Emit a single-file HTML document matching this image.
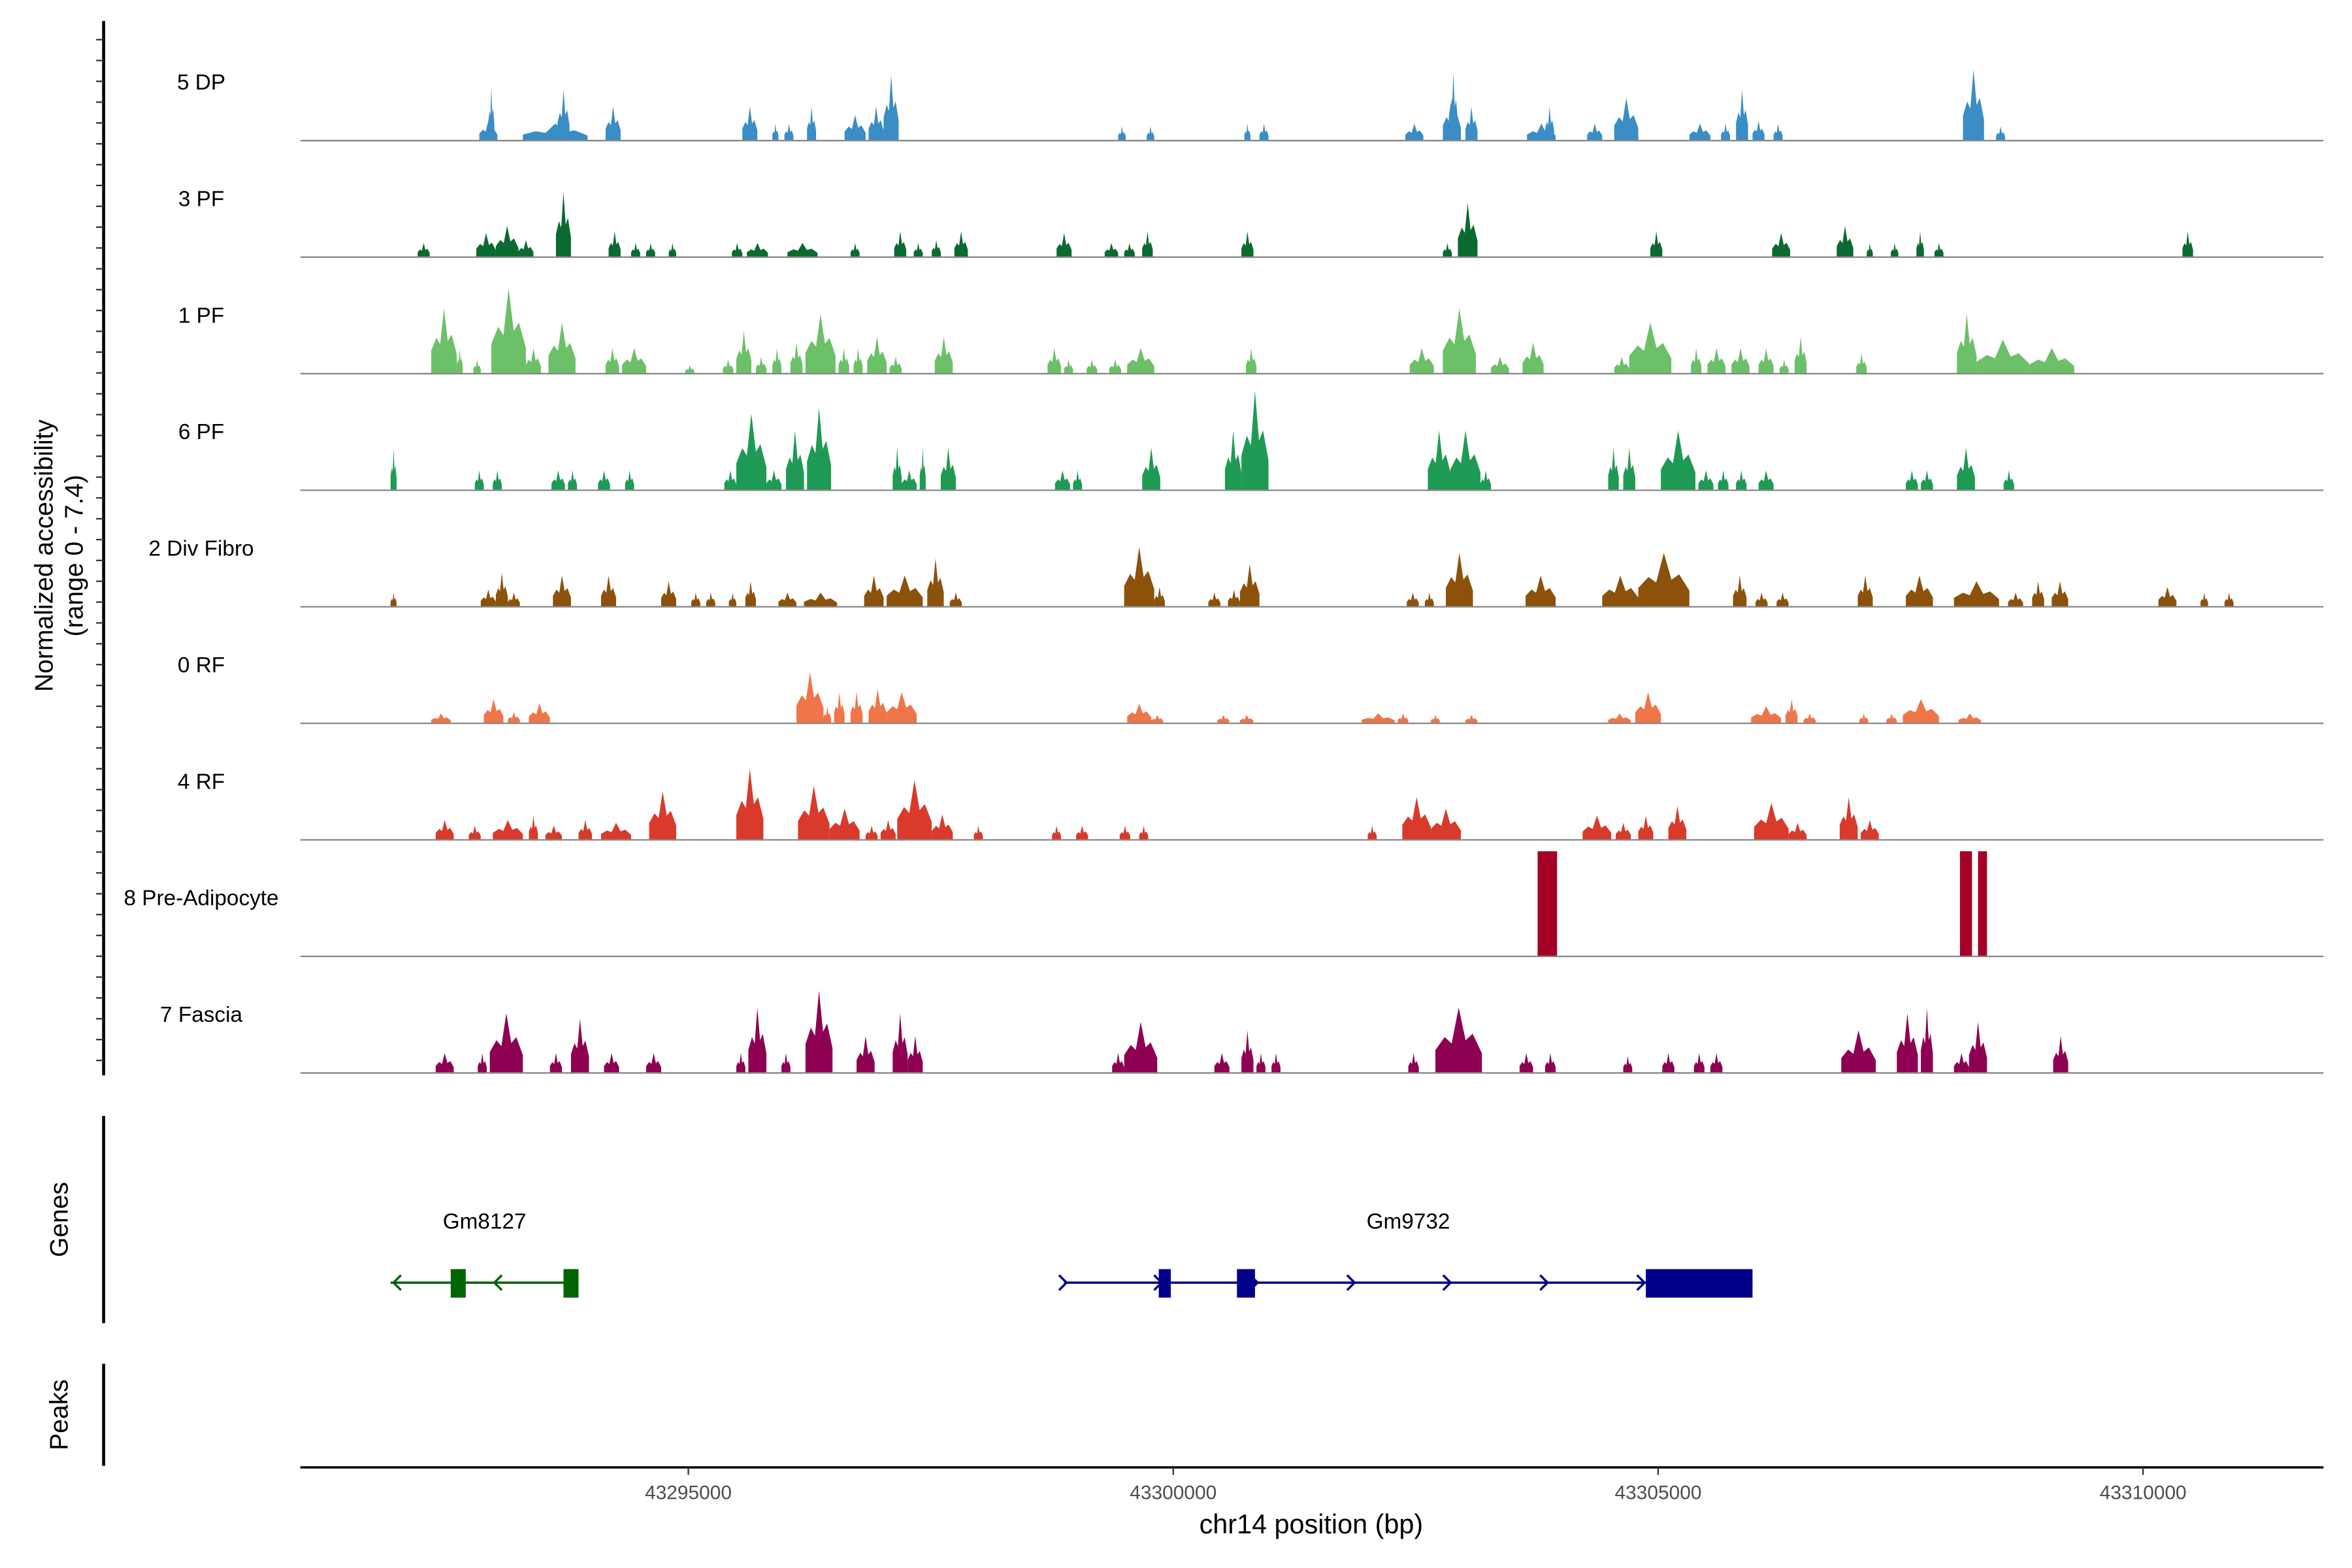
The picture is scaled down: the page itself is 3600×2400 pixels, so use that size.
<!DOCTYPE html>
<html><head><meta charset="utf-8"><style>
html,body{margin:0;padding:0;background:#fff;}
svg{display:block;}
text{font-family:"Liberation Sans",Arial,sans-serif;}
</style></head><body>
<svg id="chart" width="3600" height="2400" viewBox="0 0 1566 1044" xmlns="http://www.w3.org/2000/svg">
<g id="tracks"></g>
<g id="axes"></g>
<g id="genes"></g>
<text transform="translate(35,370) rotate(-90)" text-anchor="middle" font-size="17">Normalized accessibility</text>
<text transform="translate(55,370) rotate(-90)" text-anchor="middle" font-size="17">(range 0 - 7.4)</text>
<text transform="translate(45,812) rotate(-90)" text-anchor="middle" font-size="17">Genes</text>
<text transform="translate(45,942) rotate(-90)" text-anchor="middle" font-size="17">Peaks</text>
<text x="873" y="1021" text-anchor="middle" font-size="18">chr14 position (bp)</text>
</svg>
<script>
const regionStart = 43291000;
const regionEnd = 43311860;
const trackNames = ["5 DP","3 PF","1 PF","6 PF","2 Div Fibro","0 RF","4 RF","8 Pre-Adipocyte","7 Fascia"];
const trackColors = ["#3a8dc5","#0a6a30","#6cc068","#1e9a54","#8c510a","#f07548","#d93a2b","#a50026","#8e0152"];
const xTickValues = [43295000,43300000,43305000,43310000];
const xTickLabels = ["43295000","43300000","43305000","43310000"];
const maxValue = 7.4;
// peaks: [startOffsetBp, endOffsetBp, value]
const peaks5DP = [[1845,2031,1.4],[1938,2000,3.8],[2294,2961,1.2],[2651,2775,3.6],[3147,3302,2.4],[4557,4712,2.4],[4867,4929,1.2],[4991,5084,1.2],[5224,5317,2.4],[5611,5828,1.8],[5859,6014,2.4],[6014,6169,4.6],[8432,8510,1.0],[8727,8804,1.0],[9734,9796,1.2],[9889,9982,1.2],[11393,11579,1.2],[11780,11966,3.0],[11842,11935,4.8],[12013,12137,2.4],[12648,12943,1.2],[12834,12927,2.4],[13268,13423,1.2],[13547,13795,3.0],[14322,14539,1.2],[14648,14741,1.2],[14803,14927,3.6],[14973,15097,1.4],[15190,15283,1.2],[17143,17360,5.0],[17484,17577,1.0]];
const peaks3PF = [[1209,1333,1.0],[1814,2015,1.7],[2015,2248,2.2],[2248,2403,1.2],[2635,2790,4.6],[3178,3302,1.8],[3410,3503,1.0],[3565,3658,1.0],[3798,3875,1.0],[4449,4557,1.0],[4604,4821,1.0],[5022,5332,1.0],[5673,5766,1.0],[6123,6247,1.8],[6324,6417,1.0],[6510,6603,1.2],[6743,6882,1.8],[7797,7952,1.7],[8293,8432,1.0],[8494,8603,1.0],[8680,8789,1.8],[9703,9827,1.8],[11780,11873,1.0],[11935,12137,3.8],[13919,14043,1.8],[15175,15361,1.7],[15841,16012,2.2],[16151,16213,1.0],[16399,16477,1.0],[16663,16740,1.8],[16849,16942,1.0],[19406,19515,1.8]];
const peaks1PF = [[1349,1612,4.6],[1612,1674,1.8],[1783,1860,1.0],[1969,2325,6.0],[2325,2480,1.8],[2558,2837,3.6],[3147,3286,1.8],[3317,3565,1.8],[3968,4061,0.6],[4356,4464,1.0],[4495,4650,3.0],[4697,4805,1.2],[4867,4960,1.8],[5053,5177,2.2],[5208,5518,4.2],[5549,5658,1.8],[5704,5797,1.8],[5844,6045,2.6],[6076,6200,1.2],[6541,6727,2.6],[7704,7843,1.8],[7874,7967,1.0],[8107,8215,1.0],[8339,8463,1.0],[8525,8804,1.8],[9750,9858,1.8],[11439,11687,1.8],[11780,12121,4.6],[12276,12462,1.2],[12602,12819,2.2],[13547,13702,1.2],[13702,14136,3.6],[14338,14446,1.8],[14508,14694,1.8],[14756,14942,1.8],[15035,15190,1.8],[15252,15345,1.0],[15407,15531,2.6],[16043,16151,1.4],[17081,17283,4.2],[17283,17825,2.4],[17825,18290,1.8]];
const peaks6PF = [[930,992,2.9],[1798,1891,1.4],[1984,2077,1.4],[2589,2728,1.4],[2759,2852,1.4],[3069,3193,1.4],[3348,3441,1.4],[4371,4495,1.4],[4495,4805,5.4],[4805,4960,1.4],[5007,5193,4.2],[5224,5472,5.8],[6107,6200,3.0],[6200,6355,1.4],[6386,6448,3.0],[6603,6758,3.0],[7781,7936,1.4],[7967,8060,1.4],[8680,8866,3.0],[9533,9703,4.2],[9703,9982,7.0],[11625,11858,4.2],[11858,12168,4.2],[12168,12276,1.4],[13485,13594,3.0],[13640,13764,3.0],[14028,14384,4.2],[14415,14570,1.4],[14617,14725,1.4],[14803,14911,1.4],[15035,15190,1.4],[16554,16678,1.4],[16709,16833,1.4],[17081,17267,3.0],[17562,17670,1.4]];
const peaks2DivFibro = [[930,992,1.0],[1860,2015,1.2],[2015,2139,2.4],[2139,2263,1.0],[2604,2790,2.2],[3100,3255,2.2],[3720,3875,1.8],[4030,4123,1.0],[4185,4278,1.0],[4418,4495,1.0],[4588,4697,1.8],[4929,5115,1.0],[5193,5534,1.0],[5813,6014,2.2],[6045,6417,2.2],[6464,6634,3.4],[6696,6820,1.0],[8494,8804,4.2],[8804,8913,1.4],[9362,9486,1.0],[9564,9688,1.2],[9688,9889,3.0],[11408,11532,1.0],[11594,11687,1.0],[11811,12090,3.8],[12633,12943,2.2],[13423,13795,2.2],[13795,14322,3.8],[14772,14911,2.2],[15004,15128,1.0],[15221,15345,1.0],[16058,16213,2.2],[16554,16833,2.2],[17050,17515,1.8],[17608,17763,1.0],[17856,17980,1.8],[18058,18228,1.8],[19158,19344,1.4],[19592,19670,1.0],[19840,19933,1.0]];
const peaks0RF = [[1349,1550,0.7],[1891,2093,1.7],[2139,2263,0.8],[2356,2573,1.4],[5115,5394,3.6],[5394,5472,1.2],[5503,5611,2.2],[5673,5797,2.2],[5859,6045,2.4],[6045,6355,2.2],[8525,8773,1.4],[8773,8897,0.6],[9455,9579,0.6],[9688,9827,0.6],[10943,11284,0.7],[11315,11424,0.7],[11656,11749,0.6],[12013,12137,0.6],[13485,13718,0.7],[13764,14028,2.2],[14958,15268,1.2],[15314,15438,1.7],[15500,15624,0.7],[16074,16167,0.7],[16353,16461,0.7],[16523,16895,1.7],[17097,17329,0.7]];
const peaks4RF = [[1395,1581,1.4],[1736,1860,1.0],[1984,2294,1.4],[2356,2449,1.7],[2527,2697,1.0],[2868,3007,1.4],[3100,3410,1.2],[3596,3875,3.4],[4495,4774,5.0],[5131,5456,3.8],[5456,5766,2.2],[5828,5952,1.0],[5983,6138,1.4],[6154,6510,4.2],[6510,6727,1.8],[6944,7037,1.0],[7750,7843,1.0],[7998,8122,1.0],[8448,8556,1.0],[8649,8742,1.0],[11005,11098,1.0],[11362,11656,3.0],[11656,11966,2.2],[13221,13516,1.7],[13563,13718,1.2],[13795,13950,1.7],[14105,14291,2.4],[14989,15345,2.6],[15345,15531,1.2],[15872,16058,3.0],[16089,16275,1.4]];
const peaks8PreAdipocyte = [[12757,12958,7.4],[17112,17236,7.4],[17298,17391,7.4]];
const peaks7Fascia = [[1395,1581,1.4],[1829,1922,1.4],[1953,2294,4.2],[2573,2697,1.4],[2790,2976,3.8],[3131,3286,1.4],[3565,3720,1.4],[4495,4588,1.4],[4619,4805,4.6],[4960,5053,1.4],[5208,5487,5.8],[5735,5921,2.6],[6107,6262,4.2],[6262,6417,2.6],[8370,8494,1.4],[8494,8835,3.6],[9424,9579,1.4],[9703,9827,3.0],[9858,9951,1.4],[10013,10106,1.4],[11424,11532,1.4],[11703,12183,4.6],[12571,12710,1.4],[12834,12943,1.4],[13640,13733,1.2],[14043,14167,1.4],[14369,14477,1.4],[14539,14663,1.4],[15888,16244,3.0],[16461,16678,4.2],[16709,16833,4.6],[17050,17205,1.4],[17205,17391,3.6],[18073,18228,2.6]];
const genePositions = [930,2868,7874,14973];
const geneNames = ["Gm8127","Gm9732"];
const gene1Exons = [[1550,1705],[2713,2868]];
const gene2Exons = [[8851,8975],[9657,9843],[13873,14973]];

const allPeaks = [peaks5DP,peaks3PF,peaks1PF,peaks6PF,peaks2DivFibro,peaks0RF,peaks4RF,peaks8PreAdipocyte,peaks7Fascia];
const NS="http://www.w3.org/2000/svg";
const X0=200, X1=1547;
function xScale(bp){ return X0 + (bp - regionStart)/(regionEnd-regionStart)*(X1-X0); }
function xOff(off){ return xScale(regionStart+off); }
const TRACK_TOP=16, TRACK_H=77.6, PLOT_H=70;
function yScale(v){ return Math.min(v,maxValue)/maxValue*PLOT_H; }
function mk(tag, attrs, parent){ const e=document.createElementNS(NS,tag); for(const k in attrs) e.setAttribute(k,attrs[k]); parent.appendChild(e); return e; }

const tracks=document.getElementById('tracks');
allPeaks.forEach((pk,ti)=>{
  const base = TRACK_TOP + TRACK_H*(ti+1);
  const g=mk('g',{},tracks);
  
  
  const lbl=mk('text',{x:134,y:base-34,'text-anchor':'middle','font-size':'14.5',fill:'#000'},g);
  lbl.textContent=trackNames[ti];
  
  
  pk.forEach(p=>{
    const x1=xOff(p[0]), x2=Math.max(xOff(p[1]),x1+1.2), h=yScale(p[2]);
    let d;
    if(p[2]>=maxValue){ d=`M${x1},${base}V${base-h}H${x2}V${base}Z`; }
    else {
      const w=x2-x1, xm=x1+w*0.5;
      d=`M${x1},${base}V${base-h*0.35}L${x1+w*0.2},${base-h*0.55}L${x1+w*0.35},${base-h*0.45}L${xm},${base-h}L${x1+w*0.65},${base-h*0.5}L${x1+w*0.8},${base-h*0.6}L${x2},${base-h*0.3}V${base}Z`;
    }
    const path=mk('path',{d:d,fill:trackColors[ti]},g);
    
    
  });
  const bl=mk('line',{x1:X0,x2:X1,y1:base,y2:base,stroke:'#888',"stroke-width":1},g);
  
  
});

const axes=document.getElementById('axes');
const ya=mk('line',{x1:69,x2:69,y1:14,y2:716,stroke:'#000','stroke-width':2},axes);


for(let y=26.4;y<=716;y+=13.87){
  const t=mk('line',{x1:64,x2:69,y1:y,y2:y,stroke:'#333','stroke-width':1},axes);
  
  
}
const ga=mk('line',{x1:69,x2:69,y1:743,y2:881,stroke:'#000','stroke-width':2},axes);


const pa=mk('line',{x1:69,x2:69,y1:908,y2:976,stroke:'#000','stroke-width':2},axes);


const xa=mk('line',{x1:X0,x2:X1,y1:977,y2:977,stroke:'#000','stroke-width':1.5},axes);


xTickValues.forEach((v,i)=>{
  const x=xScale(v);
  const t=mk('line',{x1:x,x2:x,y1:977,y2:982,stroke:'#333','stroke-width':1},axes);
  
  
  const l=mk('text',{x:x,y:998,'text-anchor':'middle','font-size':'13',fill:'#4d4d4d'},axes);
  l.textContent=xTickLabels[i];
  
  
});

const genes=document.getElementById('genes');
function arrow(x,y,dir,col,parent){
  const p=mk('path',{d:`M${x+dir*-5},${y-5}L${x},${y}L${x+dir*-5},${y+5}`,stroke:col,fill:'none','stroke-width':1.5},parent);
  
  
}
function drawGene(gi,start,end,exons,col,dir,arrowOffs){
  const g=mk('g',{},genes);
  
  
  const y=854;
  mk('line',{x1:xOff(start),x2:xOff(end),y1:y,y2:y,stroke:col,'stroke-width':1.5},g);
  exons.forEach(e=>{
    const r=mk('rect',{x:xOff(e[0]),y:845,width:xOff(e[1])-xOff(e[0]),height:19,fill:col},g);
    
    
  });
  arrowOffs.forEach(a=>arrow(xOff(a),y,dir,col,g));
  const t=mk('text',{x:(xOff(start)+xOff(end))/2,y:818,'text-anchor':'middle','font-size':'14.5'},g);
  t.textContent=geneNames[gi];
  
  
}
drawGene(0,genePositions[0],genePositions[1],gene1Exons,'#006400',-1,[960,2000]);
drawGene(1,genePositions[2],genePositions[3],gene2Exons,'#00008b',1,[7900,8880,9870,10870,11860,12860,13860]);
</script>
</body></html>
